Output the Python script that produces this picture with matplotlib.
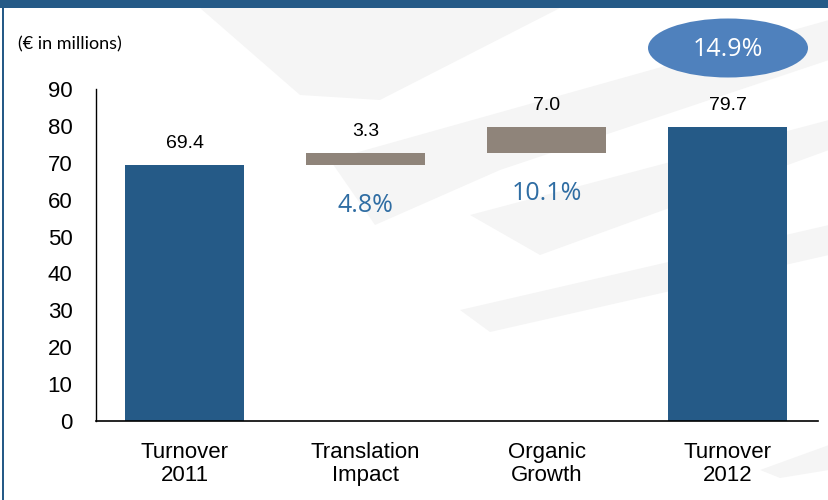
import matplotlib
matplotlib.use("Agg")
import matplotlib.pyplot as plt
from matplotlib.patches import Ellipse, Polygon, Rectangle

plt.rcParams['font.family'] = ['Liberation Sans', 'DejaVu Sans']

# 数据
categories = ['Turnover\n2011', 'Translation\nImpact', 'Organic\nGrowth', 'Turnover\n2012']
values = [69.4, 3.3, 7.0, 79.7]
is_total = [True, False, False, True]
value_labels = ['69.4', '3.3', '7.0', '79.7']
pct_labels = ['', '4.8%', '10.1%', '']
total_growth = '14.9%'
unit_label = '(€ in millions)'
yticks = [0, 10, 20, 30, 40, 50, 60, 70, 80, 90]

dark_blue = '#255A87'
taupe = '#8F847A'
pct_blue = '#2F6DA3'

fig = plt.figure(figsize=(8.29, 5.0), dpi=100)
fig.patch.set_facecolor('white')

def px(x, y):
    return (x / 829.0, 1 - y / 500.0)

# 背景水印（浅灰色斜带），放在最底层的坐标系里
bg = fig.add_axes([0, 0, 1, 1], zorder=-5)
bg.set_xlim(0, 829)
bg.set_ylim(500, 0)
bg.axis('off')
bands = [
    [(200, 8), (560, 8), (380, 100), (300, 95)],
    [(330, 160), (829, 20), (829, 60), (500, 170), (375, 225)],
    [(470, 215), (829, 120), (829, 150), (540, 255)],
    [(460, 310), (829, 225), (829, 255), (490, 332)],
    [(760, 470), (829, 445), (829, 470), (780, 478)],
]
for b in bands:
    bg.add_patch(Polygon(b, closed=True, facecolor='#f5f5f5', edgecolor='none'))

# 顶部色带和左边框
bg.add_patch(Rectangle((0, 0), 829, 8, facecolor=dark_blue, edgecolor='none'))
bg.add_patch(Rectangle((2, 0), 2.5, 500, facecolor=dark_blue, edgecolor='none'))

ax = fig.add_axes([96 / 829.0, 1 - 421 / 500.0, (818 - 96) / 829.0, (421 - 89) / 500.0], zorder=2)
ax.patch.set_alpha(0)

# 瀑布图的底部
bottoms = []
running = 0
for v, t in zip(values, is_total):
    if t:
        bottoms.append(0)
        running = v
    else:
        bottoms.append(running)
        running += v

x = list(range(len(values)))
colors = [dark_blue if t else taupe for t in is_total]
ax.bar(x, values, bottom=bottoms, width=0.66, color=colors, zorder=2)

for i in x:
    top = bottoms[i] + values[i]
    ax.annotate(value_labels[i], (i, top), xytext=(0, 9), textcoords='offset points',
                ha='center', va='bottom', fontsize=14, color='black')
    if pct_labels[i]:
        ax.annotate(pct_labels[i], (i, bottoms[i]), xytext=(0, -29), textcoords='offset points',
                    ha='center', va='center', fontsize=18, color=pct_blue,
                    family=['Open Sans', 'DejaVu Sans'])

ax.set_xlim(-0.49, 3.5)
ax.set_ylim(0, 90)
ax.set_yticks(yticks)
ax.set_xticks(x)
ax.set_xticklabels(categories, fontsize=16, linespacing=1.12)
ax.tick_params(axis='y', length=0, pad=17, labelsize=16)
ax.tick_params(axis='x', length=0, pad=15)
for s in ['top', 'right']:
    ax.spines[s].set_visible(False)
ax.spines['left'].set_linewidth(1.0)
ax.spines['bottom'].set_linewidth(1.2)

# 总增长率椭圆
fig.patches.append(Ellipse(px(728, 48), 160 / 829.0, 59 / 500.0, transform=fig.transFigure,
                           facecolor='#4F81BD', edgecolor='none', zorder=3))
fig.text(728 / 829.0, 1 - 49 / 500.0, total_growth, ha='center', va='center', fontsize=18,
         color='white', family=['Open Sans', 'DejaVu Sans'], zorder=4)

fig.text(18 / 829.0, 1 - 44 / 500.0, unit_label, ha='left', va='center', fontsize=13,
         color='black', family=['Lato', 'DejaVu Sans'])

fig.savefig('out.png', dpi=100)
